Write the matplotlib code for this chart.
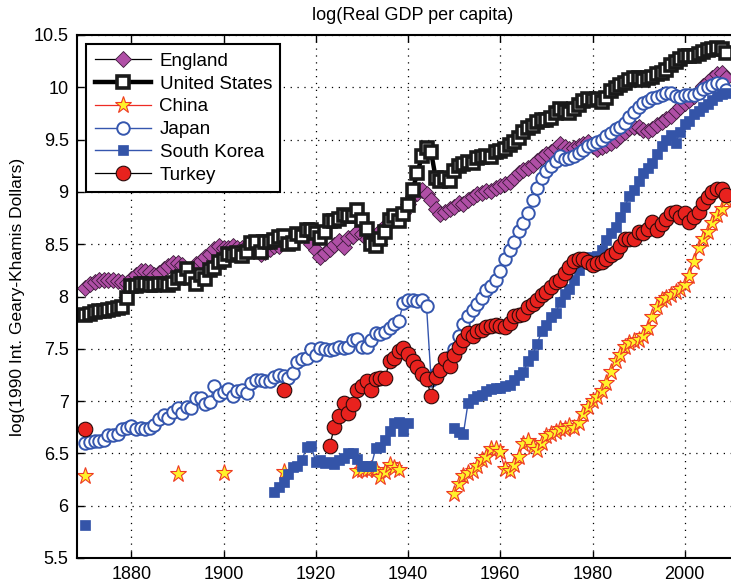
"""log real GDP per capita, six countries, 1870-2009."""

import matplotlib

matplotlib.use("Agg")
import matplotlib.pyplot as plt
import numpy as np
from matplotlib.ticker import FormatStrFormatter

plt.rcParams["font.family"] = ["Liberation Sans", "DejaVu Sans"]

# ---- data ----
first_year, last_year = 1870, 2009

england = [
    8.08, 8.12, 8.14, 8.16, 8.16, 8.16, 8.16, 8.15, 8.14, 8.13,
    8.17, 8.21, 8.24, 8.24, 8.23, 8.21, 8.22, 8.26, 8.29, 8.32,
    8.32, 8.30, 8.25, 8.24, 8.31, 8.34, 8.38, 8.41, 8.45, 8.48,
    8.46, 8.46, 8.48, 8.46, 8.46, 8.48, 8.51, 8.52, 8.41, 8.43,
    8.45, 8.48, 8.48, 8.52, 8.53, 8.57, 8.59, 8.60, 8.61, 8.50,
    8.44, 8.38, 8.42, 8.45, 8.49, 8.53, 8.47, 8.56, 8.58, 8.62,
    8.60, 8.55, 8.56, 8.58, 8.63, 8.67, 8.71, 8.74, 8.76, 8.80,
    8.88, 8.96, 8.99, 9.02, 8.98, 8.92, 8.84, 8.79, 8.81, 8.84,
    8.86, 8.89, 8.88, 8.92, 8.95, 8.98, 8.99, 9.01, 9.01, 9.04,
    9.06, 9.08, 9.09, 9.13, 9.18, 9.21, 9.23, 9.26, 9.30, 9.33,
    9.36, 9.38, 9.42, 9.46, 9.43, 9.41, 9.42, 9.44, 9.46, 9.48,
    9.44, 9.41, 9.43, 9.45, 9.47, 9.50, 9.53, 9.57, 9.61, 9.62,
    9.62, 9.59, 9.58, 9.60, 9.64, 9.67, 9.70, 9.73, 9.77, 9.81,
    9.85, 9.88, 9.92, 9.96, 10.01, 10.05, 10.09, 10.13, 10.14, 10.09,
]

united_states = [
    7.82, 7.83, 7.85, 7.86, 7.86, 7.87, 7.88, 7.89, 7.90, 7.99,
    8.10, 8.10, 8.12, 8.12, 8.11, 8.11, 8.12, 8.12, 8.11, 8.13,
    8.18, 8.19, 8.26, 8.18, 8.12, 8.21, 8.17, 8.25, 8.27, 8.33,
    8.35, 8.41, 8.40, 8.42, 8.39, 8.43, 8.51, 8.52, 8.43, 8.52,
    8.52, 8.54, 8.57, 8.58, 8.50, 8.51, 8.60, 8.58, 8.64, 8.64,
    8.61, 8.56, 8.62, 8.72, 8.72, 8.74, 8.78, 8.77, 8.77, 8.83,
    8.73, 8.65, 8.50, 8.48, 8.55, 8.62, 8.73, 8.77, 8.72, 8.79,
    8.87, 9.02, 9.18, 9.34, 9.42, 9.38, 9.13, 9.10, 9.13, 9.10,
    9.20, 9.25, 9.27, 9.29, 9.28, 9.32, 9.33, 9.34, 9.33, 9.38,
    9.39, 9.41, 9.45, 9.48, 9.52, 9.57, 9.61, 9.63, 9.67, 9.69,
    9.69, 9.71, 9.75, 9.79, 9.77, 9.75, 9.79, 9.83, 9.87, 9.89,
    9.88, 9.89, 9.86, 9.90, 9.96, 9.99, 10.02, 10.04, 10.07, 10.09,
    10.09, 10.07, 10.09, 10.10, 10.13, 10.14, 10.17, 10.21, 10.24, 10.27,
    10.30, 10.30, 10.30, 10.32, 10.34, 10.36, 10.37, 10.38, 10.37, 10.33,
]

japan = [
    6.60, 6.61, 6.62, 6.62, 6.63, 6.68, 6.68, 6.69, 6.73, 6.74,
    6.76, 6.73, 6.74, 6.73, 6.74, 6.77, 6.83, 6.87, 6.84, 6.90,
    6.93, 6.89, 6.94, 6.93, 7.03, 7.03, 6.97, 6.99, 7.14, 7.06,
    7.09, 7.12, 7.05, 7.10, 7.11, 7.08, 7.17, 7.20, 7.20, 7.19,
    7.19, 7.23, 7.25, 7.24, 7.22, 7.27, 7.37, 7.40, 7.41, 7.50,
    7.44, 7.51, 7.50, 7.49, 7.50, 7.52, 7.51, 7.52, 7.58, 7.59,
    7.52, 7.52, 7.58, 7.65, 7.64, 7.66, 7.70, 7.74, 7.77, 7.94,
    7.97, 7.97, 7.96, 7.97, 7.91, 7.20, 7.26, 7.30, 7.38, 7.42,
    7.50, 7.62, 7.74, 7.81, 7.87, 7.93, 7.99, 8.06, 8.10, 8.16,
    8.24, 8.36, 8.44, 8.52, 8.63, 8.70, 8.80, 8.92, 9.04, 9.13,
    9.20, 9.25, 9.30, 9.34, 9.31, 9.32, 9.34, 9.37, 9.40, 9.44,
    9.46, 9.48, 9.50, 9.53, 9.56, 9.60, 9.62, 9.66, 9.72, 9.76,
    9.81, 9.85, 9.87, 9.90, 9.91, 9.93, 9.95, 9.95, 9.92, 9.91,
    9.93, 9.93, 9.93, 9.95, 9.98, 10.00, 10.02, 10.04, 10.03, 9.97,
]

# sparse series: {start year: values for consecutive years}
china = {
    1870: [6.28],
    1890: [6.30],
    1900: [6.31],
    1913: [6.32],
    1929: [6.33, 6.34, 6.34, 6.35, 6.34, 6.27, 6.32, 6.39, 6.36, 6.34],
    1950: [
        6.11, 6.21, 6.28, 6.31, 6.33, 6.38, 6.44, 6.47, 6.54, 6.54,
        6.51, 6.35, 6.33, 6.39, 6.47, 6.59, 6.62, 6.56, 6.53, 6.60,
        6.67, 6.69, 6.70, 6.73, 6.73, 6.76, 6.74, 6.79, 6.88, 6.94,
        7.00, 7.04, 7.10, 7.17, 7.28, 7.38, 7.44, 7.52, 7.56, 7.57,
        7.58, 7.62, 7.70, 7.80, 7.90, 7.97, 7.99, 8.01, 8.04, 8.07,
        8.11, 8.20, 8.33, 8.46, 8.55, 8.62, 8.70, 8.78, 8.84, 8.92,
    ],
}

south_korea = {
    1870: [5.82],
    1911: [
        6.13, 6.18, 6.23, 6.30, 6.37, 6.38, 6.44, 6.56, 6.57, 6.42,
        6.44, 6.41, 6.42, 6.40, 6.44, 6.46, 6.50, 6.50, 6.45, 6.38,
        6.38, 6.38, 6.55, 6.56, 6.63, 6.71, 6.79, 6.80, 6.71, 6.79,
    ],
    1950: [
        6.74, 6.70, 6.69, 6.98, 7.02, 7.05, 7.06, 7.10, 7.12, 7.13,
        7.13, 7.14, 7.15, 7.20, 7.25, 7.28, 7.38, 7.44, 7.55, 7.67,
        7.73, 7.80, 7.84, 7.95, 8.02, 8.07, 8.16, 8.25, 8.33, 8.38,
        8.34, 8.39, 8.44, 8.54, 8.61, 8.66, 8.76, 8.86, 8.96, 9.02,
        9.10, 9.18, 9.23, 9.28, 9.36, 9.44, 9.50, 9.54, 9.47, 9.57,
        9.65, 9.68, 9.74, 9.77, 9.81, 9.84, 9.88, 9.92, 9.94, 9.95,
    ],
}

turkey = {
    1870: [6.73],
    1913: [7.11],
    1923: [
        6.57, 6.75, 6.86, 6.98, 6.89, 6.97, 7.11,
        7.14, 7.19, 7.11, 7.21, 7.22, 7.22, 7.38, 7.41, 7.48, 7.51,
        7.45, 7.38, 7.33, 7.26, 7.21, 7.05, 7.23, 7.30, 7.40, 7.34,
        7.44, 7.52, 7.58, 7.65, 7.62, 7.67, 7.68, 7.71, 7.72, 7.73,
        7.72, 7.71, 7.75, 7.81, 7.82, 7.83, 7.90, 7.93, 7.97, 8.01,
        8.04, 8.09, 8.14, 8.16, 8.22, 8.28, 8.34, 8.36, 8.36, 8.33,
        8.30, 8.32, 8.33, 8.36, 8.40, 8.43, 8.48, 8.55, 8.55, 8.55,
        8.62, 8.61, 8.65, 8.71, 8.64, 8.69, 8.74, 8.80, 8.81, 8.76,
        8.80, 8.71, 8.76, 8.81, 8.89, 8.95, 9.00, 9.03, 9.03, 8.97,
    ],
}

years = np.arange(first_year, last_year + 1)


def annual(pieces):
    """Spread {start: values} onto the full year axis, NaN where missing."""
    out = np.full(len(years), np.nan)
    for start, vals in pieces.items():
        i = start - first_year
        out[i:i + len(vals)] = vals
    return out


fig = plt.figure(figsize=(7.31, 5.85), dpi=100)
W, H = 731, 585
ax = fig.add_axes([77 / W, (H - 558) / H, (748 - 77) / W, (558 - 35) / H])

ax.plot(years, england, "-D", color="black", lw=0.9, ms=7.8,
        mfc="#B04FA6", mec="#3a1a38", mew=0.6, label="England")
ax.plot(years, united_states, "-s", color="black", lw=3.2, ms=8.3,
        mfc="white", mec="#1a1a1a", mew=2.6, label="United States")
ax.plot(years, annual(china), "-*", color="#EE2B24", lw=0.9, ms=12.5,
        mfc="#FFF22A", mec="#EE3A24", mew=0.8, label="China")
ax.plot(years, japan, "-o", color="#3556AE", lw=1.0, ms=9,
        mfc="white", mec="#3556AE", mew=1.4, label="Japan")
ax.plot(years, annual(south_korea), "-s", color="#3556AE", lw=1.0, ms=7.6,
        mfc="#3454A8", mec="#3454A8", mew=0.5, label="South Korea")
ax.plot(years, annual(turkey), "-o", color="black", lw=0.9, ms=10.5,
        mfc="#E8221E", mec="#2a0a0a", mew=0.8, label="Turkey")

ax.set_xlim(1868.2, 1868.2 + (748 - 77) / 4.611)
ax.set_ylim(5.5, 10.5)
ax.set_xticks(np.arange(1880, 2001, 20))
ax.set_yticks(np.arange(5.5, 10.51, 0.5))
ax.yaxis.set_major_formatter(FormatStrFormatter("%g"))
ax.tick_params(direction="in", top=True, right=True, length=5, width=1.0,
               labelsize=13, pad=6)
for sp in ax.spines.values():
    sp.set_linewidth(1.5)
ax.grid(True, color="black", linestyle=(0, (1, 4.5)), linewidth=0.9)

ax.set_title("log(Real GDP per capita)", fontsize=13, pad=11)
ax.set_ylabel("log(1990 Int. Geary-Khamis Dollars)", fontsize=12.5, labelpad=6)

leg = ax.legend(loc="upper left", bbox_to_anchor=(0.0, 1.0), fontsize=13.5,
                handlelength=3.0, handletextpad=0.45, labelspacing=0.3,
                borderpad=0.45, borderaxespad=0.5, fancybox=False,
                framealpha=1, edgecolor="black")
leg.get_frame().set_linewidth(1.5)

fig.savefig("out.png", dpi=100)
